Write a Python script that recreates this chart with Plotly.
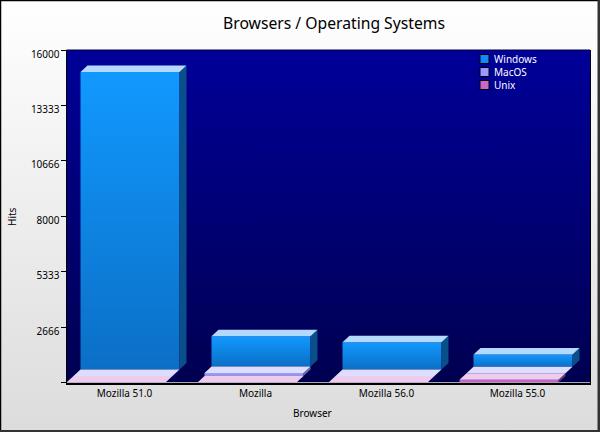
import plotly.graph_objects as go

browsers = ['Mozilla 51.0', 'Mozilla', 'Mozilla 56.0', 'Mozilla 55.0']
windows = [14310, 1460, 1316, 593]
macos = [0, 145, 0, 0]
unix = [0, 0, 0, 130]
y_ticks = [0, 2666, 5333, 8000, 10666, 13333, 16000]
y_labels = ['', '2666', '5333', '8000', '10666', '13333', '16000']

W, H = 600, 432
left, right, top, bottom = 66.5, 590, 50, 382.5
cat_px = 131.0
x_per_px = 1 / cat_px
y_per_px = 16000 / (bottom - top)
bar_w = 99 * x_per_px
dx = 7 * x_per_px
dy = 6.5 * y_per_px
tick_off = 58 * x_per_px
font = 'Noto Sans'

fig = go.Figure()


def poly(xs, ys, color, gradient=None, ax=('x2', 'y2')):
    fill = dict(fillcolor=color)
    if gradient:
        fill = dict(fillgradient=dict(type='vertical', colorscale=[[0, gradient[0]], [1, gradient[1]]],
                                      start=min(ys), stop=max(ys)))
    fig.add_trace(go.Scatter(x=xs + xs[:1], y=ys + ys[:1], mode='lines', fill='toself', line=dict(width=0),
                             hoverinfo='skip', showlegend=False, xaxis=ax[0], yaxis=ax[1], **fill))


def box(x0, y0, value, front, top_c, side):
    y1 = y0 + value
    if value > 0:
        poly([x0, x0 + bar_w, x0 + bar_w, x0], [y0, y0, y1, y1], None, gradient=front)
        poly([x0 + bar_w, x0 + bar_w + dx, x0 + bar_w + dx, x0 + bar_w], [y0, y0 + dy, y1 + dy, y1], side)
    poly([x0, x0 + bar_w, x0 + bar_w + dx, x0 + dx], [y1, y1, y1 + dy, y1 + dy], top_c)


# paper and plot backgrounds
poly([0, 1, 1, 0], [0, 0, 1, 1], None, gradient=('#dcdcdc', '#ffffff'), ax=('x', 'y'))
x_max = (right - left) * x_per_px
poly([0, x_max, x_max, 0], [0, 0, 16000, 16000], None, gradient=('#000050', '#000099'))

for i in range(len(browsers)):
    # back to front so the nearer series sits over the farther ones
    base_unix = 0
    base_mac = unix[i] + dy
    base_win = base_mac + macos[i] + dy
    box(i + 2 * dx, base_win, windows[i], ('#0b6fc6', '#1199ff'), '#b3d9ff', '#0a4f8a')
    box(i + dx, base_mac, macos[i], ('#8f8fe6', '#9f9ff5'), '#ddddff', '#6a6aa8')
    box(i, base_unix, unix[i], ('#c060c0', '#cc66cc'), '#eeccee', '#6b3a6b')

legend_items = [('Windows', '#1188ff'), ('MacOS', '#9999ff'), ('Unix', '#cc66cc')]
shapes = []
annotations = []
for j, (name, color) in enumerate(legend_items):
    yc = 59 + 13 * j
    shapes.append(dict(type='rect', xref='paper', yref='paper', x0=480 / W, x1=489 / W,
                       y0=1 - (yc + 4.5) / H, y1=1 - (yc - 4.5) / H, fillcolor=color,
                       line=dict(color='black', width=1)))
    annotations.append(dict(text=name, xref='paper', yref='paper', x=492 / W, y=1 - yc / H, xanchor='left',
                            yanchor='middle', showarrow=False, font=dict(family=font, size=10, color='white')))

# window frame and the thin top edge of the plot
for x0, y0, x1, y1, c, w in [(0, 0, 0, 1, 'black', 2.5), (0, 1, 1, 1, 'black', 2.5),
                             (1, 0, 1, 1, '#333333', 5), (0, 0, 1, 0, '#333333', 4),
                             (left / W, 1 - top / H, right / W, 1 - top / H, '#000033', 1)]:
    shapes.append(dict(type='line', xref='paper', yref='paper', x0=x0, y0=y0, x1=x1, y1=y1,
                       line=dict(color=c, width=w)))

annotations.append(dict(text='Hits', xref='paper', yref='paper', x=12 / W, y=1 - 217 / H, textangle=-90,
                        xanchor='center', yanchor='middle', showarrow=False,
                        font=dict(family=font, size=10, color='black')))
annotations.append(dict(text='Browser', xref='paper', yref='paper', x=313 / W, y=1 - 413 / H,
                        xanchor='center', yanchor='middle', showarrow=False,
                        font=dict(family=font, size=10, color='black')))

fig.update_layout(
    width=W, height=H, margin=dict(l=0, r=0, t=0, b=0, autoexpand=False), showlegend=False,
    paper_bgcolor='white', plot_bgcolor='rgba(0,0,0,0)',
    title=dict(text='Browsers / Operating Systems', x=334 / W, y=1 - 24 / H, xanchor='center', yanchor='middle',
               font=dict(family=font, size=15.7, color='black')),
    shapes=shapes, annotations=annotations,
    xaxis=dict(domain=[0, 1], range=[0, 1], visible=False, fixedrange=True),
    yaxis=dict(domain=[0, 1], range=[0, 1], visible=False, fixedrange=True),
    xaxis2=dict(domain=[left / W, right / W], range=[0, x_max], anchor='y2', showgrid=False, zeroline=False,
                tickvals=[i + tick_off for i in range(len(browsers))], ticktext=browsers, ticks='', ticklabelstandoff=1,
                showline=True, linecolor='black', linewidth=1.5,
                tickfont=dict(family=font, size=10, color='black')),
    yaxis2=dict(domain=[1 - bottom / H, 1 - top / H], range=[0, 16000], anchor='x2', showgrid=False, zeroline=False,
                tickvals=y_ticks, ticktext=y_labels, ticks='outside', ticklen=5, tickcolor='black', tickwidth=1,
                ticklabelshift=4, ticklabelstandoff=-1,
                showline=True, linecolor='black', linewidth=1, mirror=True,
                tickfont=dict(family=font, size=10, color='black')),
)

fig.write_html("out.html", config=dict(displayModeBar=False),
               post_script="document.body.style.margin='0';document.documentElement.style.overflow='hidden';")
